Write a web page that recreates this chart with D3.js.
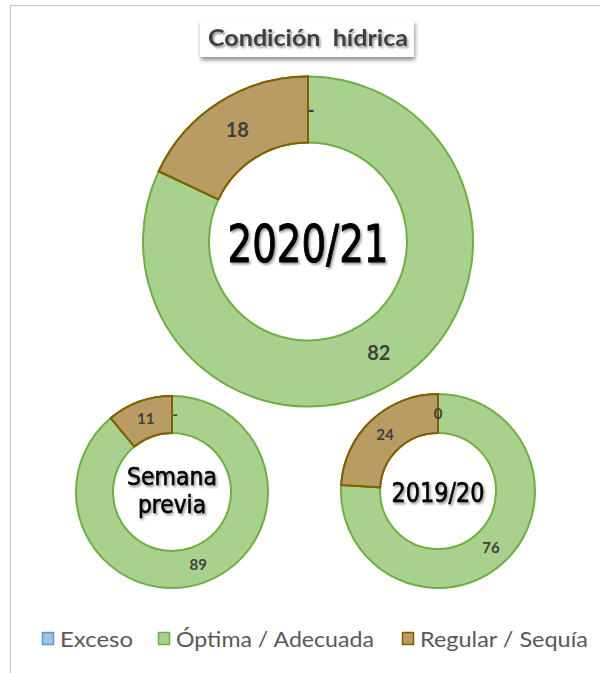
<!DOCTYPE html>
<html>
<head>
<meta charset="utf-8">
<script src="https://cdn.jsdelivr.net/npm/d3@7"></script>
<style>
  body { margin: 0; background: #fff; }
  svg { display: block; }
</style>
</head>
<body>
<svg id="chart" width="600" height="673"></svg>
<script>
var width = 600, height = 673

// categories, colours follow the legend order
var categories = ["Exceso", "Óptima / Adecuada", "Regular / Sequía"]
var fills   = ["#9dc3e6", "#a9d18e", "#b89c63"]
var strokes = ["#5b9bd5", "#70ad47", "#7f6000"]

// one value array per donut (percent)
var values2021   = [0, 82, 18]
var valuesPrevia = [0, 89, 11]
var values1920   = [0, 76, 24]

// label shown for each slice ("-" when the value is zero in the two current charts)
var labels2021   = ["-", "82", "18"]
var labelsPrevia = ["-", "89", "11"]
var labels1920   = ["0", "76", "24"]

var svg = d3.select('#chart')

// outer chart frame
svg.append('rect')
  .attr('x', 10.5).attr('y', 5.5)
  .attr('width', 620).attr('height', 700)
  .attr('fill', 'none')
  .attr('stroke', '#bfbfbf')

var defs = svg.append('defs')
var sh = defs.append('filter').attr('id', 'txtShadow')
  .attr('x', '-20%').attr('y', '-20%').attr('width', '140%').attr('height', '160%')
sh.append('feDropShadow').attr('dx', 1.5).attr('dy', 2).attr('stdDeviation', 1.2)
  .attr('flood-color', '#000').attr('flood-opacity', 0.4)
var bs = defs.append('filter').attr('id', 'boxShadow')
  .attr('x', '-10%').attr('y', '-20%').attr('width', '120%').attr('height', '160%')
bs.append('feDropShadow').attr('dx', 1).attr('dy', 3).attr('stdDeviation', 2)
  .attr('flood-color', '#000').attr('flood-opacity', 0.45)

// title box
var title = svg.append('g')
title.append('rect')
  .attr('x', 200).attr('y', 20).attr('width', 214).attr('height', 37)
  .attr('fill', '#fff')
  .attr('filter', 'url(#boxShadow)')
title.append('text')
  .attr('x', 208).attr('y', 46)
  .attr('textLength', 200)
  .attr('lengthAdjust', 'spacingAndGlyphs')
  .style('font-family', 'Lato, "Open Sans", sans-serif')
  .style('font-weight', 'bold')
  .style('font-size', '22px')
  .style('fill', '#404040')
  .style('white-space', 'pre')
  .attr('filter', 'url(#txtShadow)')
  .text('Condición  hídrica')

var pie = d3.pie().sort(null).value(d => d)

function donut(cx, cy, rOut, rIn, values, labels, fontSize) {
  var g = svg.append('g').attr('transform', 'translate(' + cx + ',' + cy + ')')
  var arc = d3.arc().innerRadius(rIn).outerRadius(rOut)
  var arcs = pie(values)

  g.selectAll('path')
    .data(arcs)
    .enter().append('path')
    .attr('d', arc)
    .attr('fill', (d, i) => fills[i])
    .attr('stroke', (d, i) => strokes[i])
    .attr('stroke-width', 2)
    .attr('stroke-linejoin', 'round')

  // draw the brown slice again so its border sits on top
  g.append('path')
    .attr('d', arc(arcs[2]))
    .attr('fill', fills[2])
    .attr('stroke', strokes[2])
    .attr('stroke-width', 2)

  g.selectAll('text.lbl')
    .data(arcs)
    .enter().append('text')
    .attr('class', 'lbl')
    .attr('transform', (d, i) => {
      var c = arc.centroid(d)
      var dx = labels[i] === '-' ? 3 : 0
      return 'translate(' + (c[0] + dx) + ',' + c[1] + ')'
    })
    .attr('text-anchor', 'middle')
    .attr('dy', '0.36em')
    .style('font-family', 'Lato, "Open Sans", sans-serif')
    .style('font-weight', 'bold')
    .style('font-size', fontSize + 'px')
    .style('fill', '#404040')
    .text((d, i) => labels[i])
  return g
}

// lines: [text, baseline y relative to centre, width]
function centerText(g, lines, size, sw) {
  lines.forEach(l => {
    g.append('text')
      .attr('x', -l[2] / 2)
      .attr('y', l[1])
      .attr('textLength', l[2])
      .attr('lengthAdjust', 'spacingAndGlyphs')
      .style('font-family', '"DejaVu Sans Condensed", "DejaVu Sans", sans-serif')
      .style('font-size', size + 'px')
      .style('fill', '#000')
      .style('stroke', '#000')
      .style('stroke-width', sw)
      .attr('filter', 'url(#txtShadow)')
      .text(l[0])
  })
}

var g1 = donut(308, 241.5, 165, 99, values2021, labels2021, 20)
centerText(g1, [['2020/21', 20.5, 161]], 51, 0.9)

var g2 = donut(172, 492, 96, 59, valuesPrevia, labelsPrevia, 15)
centerText(g2, [['Semana', -7, 90], ['previa', 21, 68]], 25, 0.6)

var g3 = donut(438, 491, 97, 58, values1920, labels1920, 15)
centerText(g3, [['2019/20', 11, 93]], 27, 0.6)

// legend
var legendX = [42, 158, 402]
var legendW = [73, 198, 168]
var lg = svg.append('g')
categories.forEach((c, i) => {
  lg.append('rect')
    .attr('x', legendX[i] + 0.5).attr('y', 632.5)
    .attr('width', 11).attr('height', 12)
    .attr('fill', fills[i])
    .attr('stroke', strokes[i])
    .attr('stroke-width', 1.5)
  lg.append('text')
    .attr('x', legendX[i] + 18).attr('y', 647)
    .attr('textLength', legendW[i])
    .attr('lengthAdjust', 'spacingAndGlyphs')
    .style('font-family', 'Lato, "Open Sans", sans-serif')
    .style('font-size', '22px')
    .style('fill', '#595959')
    .text(c)
})
</script>
</body>
</html>
